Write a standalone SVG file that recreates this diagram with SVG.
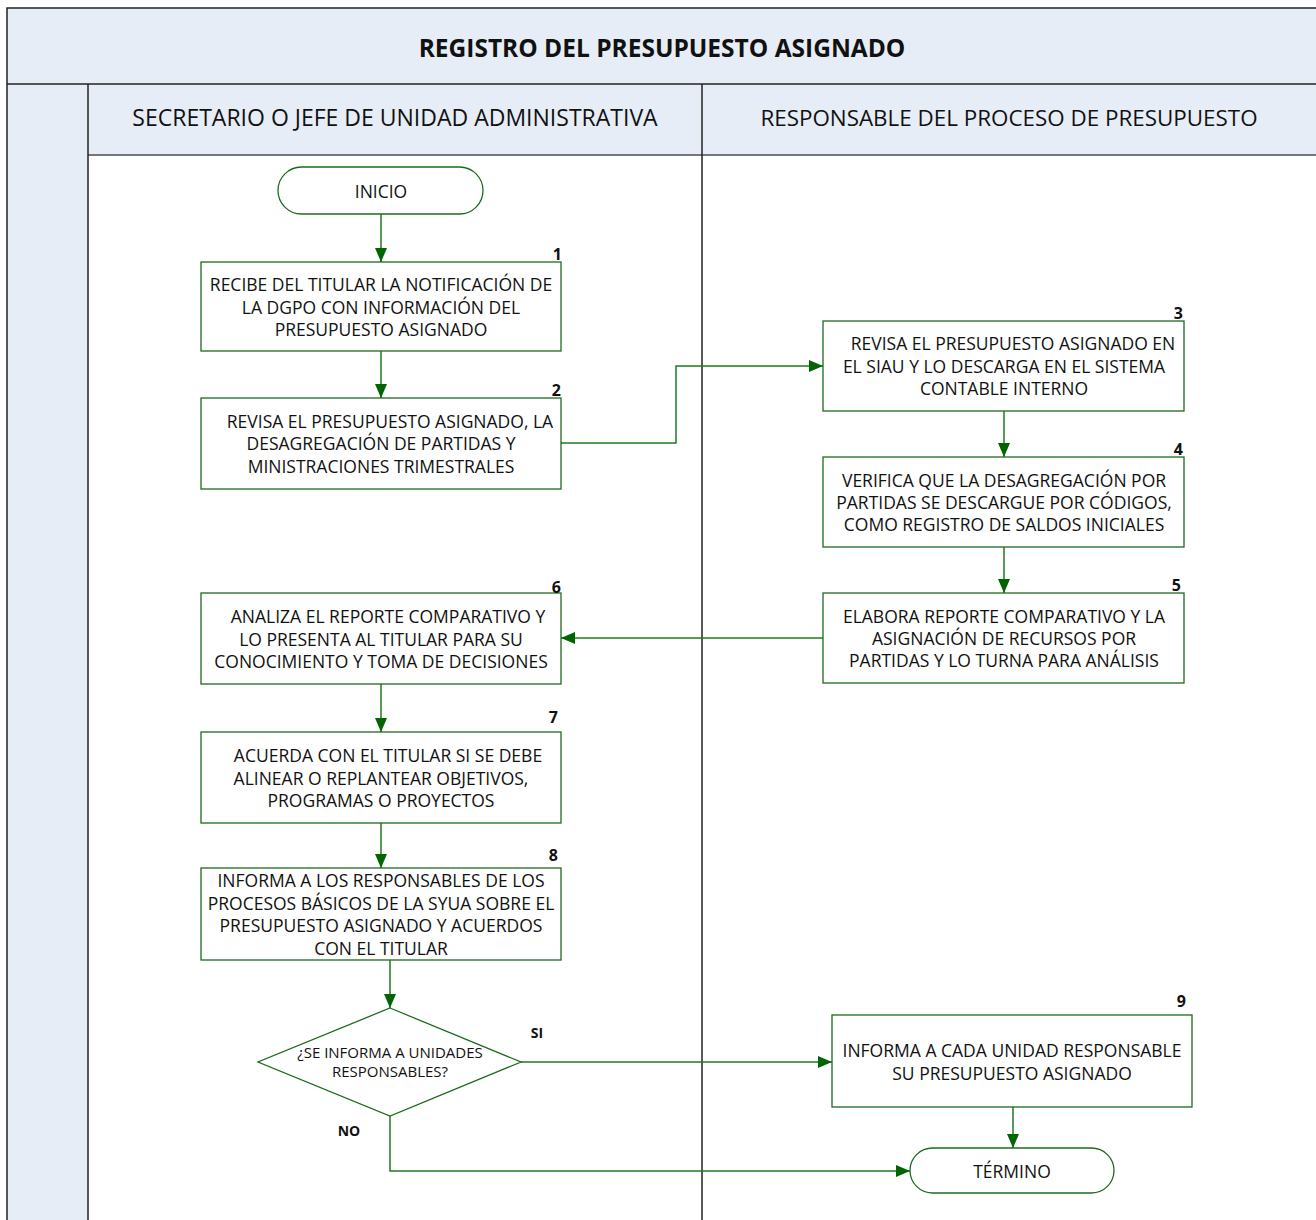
<svg xmlns="http://www.w3.org/2000/svg" width="1316" height="1220" viewBox="0 0 1316 1220">
<style>
.t{font-family:"Open Sans","Liberation Sans",sans-serif;font-size:17.5px;fill:#111;text-anchor:middle}
.n{font-family:"Open Sans","Liberation Sans",sans-serif;font-size:16px;font-weight:bold;fill:#111;text-anchor:end}
.lbl{font-family:"Open Sans","Liberation Sans",sans-serif;font-size:14px;font-weight:bold;fill:#111;text-anchor:middle}
.lane{font-family:"Open Sans","Liberation Sans",sans-serif;font-size:23px;fill:#111;text-anchor:middle}
.box{fill:#fff;stroke:#1d6b1d;stroke-width:1.3}
.c{fill:none;stroke:#217a21;stroke-width:1.5}
</style>
<defs>
<marker id="ah" markerWidth="14" markerHeight="12" refX="14" refY="6" orient="auto" markerUnits="userSpaceOnUse">
<path d="M0,0 L14,6 L0,12 Z" fill="#006400"/>
</marker>
</defs>
<g id="frame">
<rect x="7" y="8" width="1320" height="1230" fill="#e7edf7" stroke="#222" stroke-width="1.5"/>
<rect x="88" y="155" width="1240" height="1080" fill="#fff"/>
<line x1="7" y1="84" x2="1316" y2="84" stroke="#222" stroke-width="1.5"/>
<line x1="88" y1="155" x2="1316" y2="155" stroke="#777" stroke-width="2"/>
<line x1="88" y1="84" x2="88" y2="1220" stroke="#222" stroke-width="1.5"/>
<line x1="702" y1="84" x2="702" y2="1220" stroke="#222" stroke-width="1.5"/>
<text x="662" y="57" class="lane" style="font-weight:bold;font-size:24.5px">REGISTRO DEL PRESUPUESTO ASIGNADO</text>
<text x="395" y="126" class="lane">SECRETARIO O JEFE DE UNIDAD ADMINISTRATIVA</text>
<text x="1009" y="126" class="lane" style="font-size:22.4px">RESPONSABLE DEL PROCESO DE PRESUPUESTO</text>
</g>
<g id="connectors">
<line class="c" x1="381" y1="214" x2="381" y2="262" marker-end="url(#ah)"/>
<line class="c" x1="381" y1="351" x2="381" y2="398" marker-end="url(#ah)"/>
<polyline class="c" points="561,443 676,443 676,366 823,366" marker-end="url(#ah)"/>
<line class="c" x1="1004" y1="411" x2="1004" y2="457" marker-end="url(#ah)"/>
<line class="c" x1="1004" y1="547" x2="1004" y2="593" marker-end="url(#ah)"/>
<line class="c" x1="823" y1="638" x2="561" y2="638" marker-end="url(#ah)"/>
<line class="c" x1="381" y1="684" x2="381" y2="732" marker-end="url(#ah)"/>
<line class="c" x1="381" y1="823" x2="381" y2="868" marker-end="url(#ah)"/>
<line class="c" x1="390" y1="960" x2="390" y2="1008" marker-end="url(#ah)"/>
<line class="c" x1="521" y1="1062" x2="832" y2="1062" marker-end="url(#ah)"/>
<polyline class="c" points="390,1116 390,1171 910,1171" marker-end="url(#ah)"/>
<line class="c" x1="1013" y1="1107" x2="1013" y2="1148" marker-end="url(#ah)"/>
<text x="537" y="1038" class="lbl">SI</text>
<text x="349" y="1136" class="lbl">NO</text>
</g>
<g id="inicio">
<rect class="box" x="278" y="167" width="205" height="47" rx="23.5"/>
<text class="t" x="381" y="198">INICIO</text>
</g>
<g id="n1">
<rect class="box" x="201" y="262" width="360" height="89"/>
<text class="n" x="562" y="260">1</text>
<text class="t" x="381" y="291">RECIBE DEL TITULAR LA NOTIFICACIÓN DE</text>
<text class="t" x="381" y="314">LA DGPO CON INFORMACIÓN DEL</text>
<text class="t" x="381" y="336">PRESUPUESTO ASIGNADO</text>
</g>
<g id="n2">
<rect class="box" x="201" y="398" width="360" height="91"/>
<text class="n" x="561" y="396">2</text>
<text class="t" x="390" y="428">REVISA EL PRESUPUESTO ASIGNADO, LA</text>
<text class="t" x="381" y="450">DESAGREGACIÓN DE PARTIDAS Y</text>
<text class="t" x="381" y="473">MINISTRACIONES TRIMESTRALES</text>
</g>
<g id="n3">
<rect class="box" x="823" y="321" width="361" height="90"/>
<text class="n" x="1183" y="319">3</text>
<text class="t" x="1013" y="350">REVISA EL PRESUPUESTO ASIGNADO EN</text>
<text class="t" x="1004" y="373">EL SIAU Y LO DESCARGA EN EL SISTEMA</text>
<text class="t" x="1004" y="395">CONTABLE INTERNO</text>
</g>
<g id="n4">
<rect class="box" x="823" y="457" width="361" height="90"/>
<text class="n" x="1183" y="455">4</text>
<text class="t" x="1004" y="487">VERIFICA QUE LA DESAGREGACIÓN POR</text>
<text class="t" x="1004" y="509">PARTIDAS SE DESCARGUE POR CÓDIGOS,</text>
<text class="t" x="1004" y="531">COMO REGISTRO DE SALDOS INICIALES</text>
</g>
<g id="n5">
<rect class="box" x="823" y="593" width="361" height="90"/>
<text class="n" x="1181" y="591">5</text>
<text class="t" x="1004" y="623">ELABORA REPORTE COMPARATIVO Y LA</text>
<text class="t" x="1004" y="645">ASIGNACIÓN DE RECURSOS POR</text>
<text class="t" x="1004" y="667">PARTIDAS Y LO TURNA PARA ANÁLISIS</text>
</g>
<g id="n6">
<rect class="box" x="201" y="593" width="360" height="91"/>
<text class="n" x="561" y="593">6</text>
<text class="t" x="388" y="623">ANALIZA EL REPORTE COMPARATIVO Y</text>
<text class="t" x="381" y="646">LO PRESENTA AL TITULAR PARA SU</text>
<text class="t" x="381" y="668">CONOCIMIENTO Y TOMA DE DECISIONES</text>
</g>
<g id="n7">
<rect class="box" x="201" y="732" width="360" height="91"/>
<text class="n" x="558" y="723">7</text>
<text class="t" x="388" y="762">ACUERDA CON EL TITULAR SI SE DEBE</text>
<text class="t" x="381" y="785">ALINEAR O REPLANTEAR OBJETIVOS,</text>
<text class="t" x="381" y="807">PROGRAMAS O PROYECTOS</text>
</g>
<g id="n8">
<rect class="box" x="201" y="868" width="360" height="92"/>
<text class="n" x="558" y="861">8</text>
<text class="t" x="381" y="887">INFORMA A LOS RESPONSABLES DE LOS</text>
<text class="t" x="381" y="910">PROCESOS BÁSICOS DE LA SYUA SOBRE EL</text>
<text class="t" x="381" y="932">PRESUPUESTO ASIGNADO Y ACUERDOS</text>
<text class="t" x="381" y="955">CON EL TITULAR</text>
</g>
<g id="decision">
<polygon class="box" points="390,1008 521,1062 390,1116 258,1062"/>
<text class="t" x="390" y="1058" style="font-size:15px">¿SE INFORMA A UNIDADES</text>
<text class="t" x="390" y="1077" style="font-size:15px">RESPONSABLES?</text>
</g>
<g id="n9">
<rect class="box" x="832" y="1015" width="360" height="92"/>
<text class="n" x="1186" y="1007">9</text>
<text class="t" x="1012" y="1057">INFORMA A CADA UNIDAD RESPONSABLE</text>
<text class="t" x="1012" y="1080">SU PRESUPUESTO ASIGNADO</text>
</g>
<g id="termino">
<rect class="box" x="910" y="1148" width="204" height="45" rx="22.5"/>
<text class="t" x="1012" y="1178">TÉRMINO</text>
</g>
</svg>
